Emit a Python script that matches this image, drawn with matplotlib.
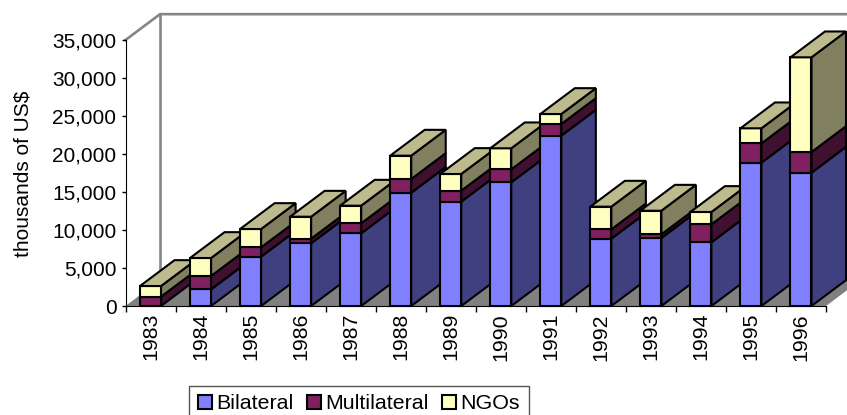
import matplotlib
matplotlib.use("Agg")
import matplotlib.pyplot as plt
from matplotlib.patches import Polygon, Patch
from matplotlib.ticker import FuncFormatter

years = ['1983', '1984', '1985', '1986', '1987', '1988', '1989',
         '1990', '1991', '1992', '1993', '1994', '1995', '1996']
bilateral = [0, 2190, 6490, 8245, 9560, 14900, 13730,
             16270, 22410, 8860, 8950, 8380, 18860, 17540]
multilateral = [1230, 1760, 1230, 615, 1320, 1810, 1445,
                1710, 1540, 1230, 480, 2370, 2540, 2720]
ngos = [1400, 2365, 2410, 2890, 2320, 3070, 2195,
        2770, 1310, 2980, 3110, 1620, 1980, 12460]

names = ['Bilateral', 'Multilateral', 'NGOs']
front_colors = ['#8080FF', '#802060', '#FFFFC0']
side_colors = ['#404080', '#401030', '#808060']
top_color = '#BDBB8E'
floor_color = '#808080'
wall_color = '#868686'

W, H = 847, 415
depth_x = 0.69
depth_y = 3400
bar_w = 0.42
edge = 1.5

plt.rcParams['font.family'] = ['Liberation Sans', 'DejaVu Sans']

fig = plt.figure(figsize=(W / 100, H / 100), dpi=100)
ax = fig.add_axes([125.5 / W, 1 - 306 / H, 700.5 / W, 266 / H])
ax.set_xlim(0, len(years))
ax.set_ylim(0, 35000)
ax.patch.set_visible(False)


def face(points, color, z, line=edge, ec='black'):
    ax.add_patch(Polygon(points, closed=True, facecolor=color, edgecolor=ec,
                         linewidth=line, joinstyle='miter', clip_on=False, zorder=z))


# floor and back wall
n = len(years)
face([(0, 0), (n, 0), (n + depth_x, depth_y), (depth_x, depth_y)],
     floor_color, 1, line=0, ec=floor_color)
ax.plot([0, depth_x, n + depth_x], [35000, 35000 + depth_y, 35000 + depth_y],
        color=wall_color, lw=1.9, clip_on=False, zorder=1, solid_joinstyle='miter')
ax.plot([depth_x, depth_x], [depth_y, 35000 + depth_y],
        color=wall_color, lw=1.9, clip_on=False, zorder=1)

# stacked boxes, left to right so each one covers the side of the previous
z = 2
for i in range(n):
    x0 = i + 0.5 - bar_w / 2
    x1 = i + 0.5 + bar_w / 2
    bottom = 0
    for vals, fc, sc in zip([bilateral, multilateral, ngos], front_colors, side_colors):
        v = vals[i]
        if v <= 0:
            continue
        top = bottom + v
        face([(x1, bottom), (x1 + depth_x, bottom + depth_y),
              (x1 + depth_x, top + depth_y), (x1, top)], sc, z)
        face([(x0, bottom), (x1, bottom), (x1, top), (x0, top)], fc, z + 0.5)
        bottom = top
    face([(x0, bottom), (x1, bottom), (x1 + depth_x, bottom + depth_y),
          (x0 + depth_x, bottom + depth_y)], top_color, z + 0.6)
    z += 1

# axes
ax.spines['top'].set_visible(False)
ax.spines['right'].set_visible(False)
ax.spines['left'].set_zorder(50)
ax.spines['bottom'].set_zorder(50)
ax.set_yticks(range(0, 35001, 5000))
ax.yaxis.set_major_formatter(FuncFormatter(lambda v, p: f'{int(v):,}'))
ax.tick_params(axis='y', labelsize=15, length=3, width=1, pad=3.5)
ax.set_xticks(range(n + 1))
ax.set_xticklabels([])
ax.tick_params(axis='x', which='major', length=4, width=1)
ax.set_xticks([i + 0.5 for i in range(n)], minor=True)
ax.set_xticklabels(years, minor=True, rotation=90, fontsize=15.4)
ax.tick_params(axis='x', which='minor', length=0, pad=5)
fig.text(23 / W, 1 - 174 / H, 'thousands of US$', rotation=90, fontsize=15,
         ha='center', va='center')

handles = [Patch(facecolor=c, edgecolor='black', linewidth=1.5) for c in front_colors]
leg = fig.legend(handles, names, ncol=3, loc='upper left',
                 bbox_to_anchor=(189 / W, 1 - 385.5 / H), borderaxespad=0,
                 fontsize=15.4, frameon=True, fancybox=False, edgecolor='#555555',
                 framealpha=1, handlelength=0.66, handleheight=0.66,
                 handletextpad=0.2, columnspacing=0.62, borderpad=0.42)
leg.get_frame().set_linewidth(1)

fig.savefig('out.png', dpi=100)
